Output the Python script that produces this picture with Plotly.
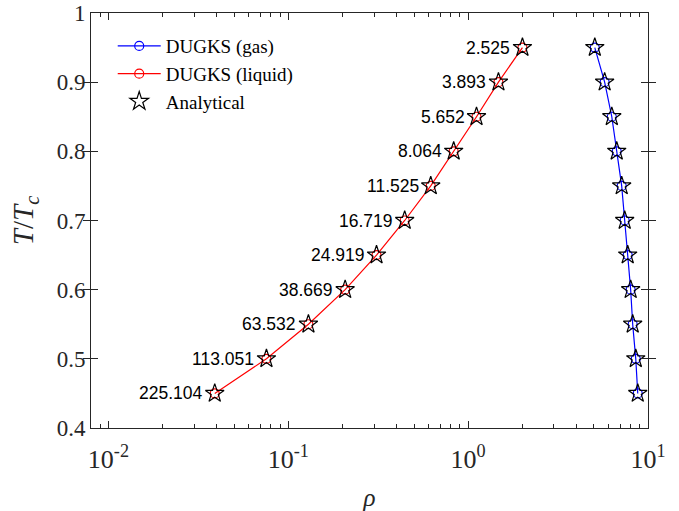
import math
import plotly.graph_objects as go

T_ratio = [0.95, 0.90, 0.85, 0.80, 0.75, 0.70, 0.65, 0.60, 0.55, 0.50, 0.45]
rho_gas = [2.004, 1.474, 1.113, 0.831, 0.6195, 0.4438, 0.3094, 0.2071, 0.1294, 0.0756, 0.0390]
rho_liquid = [5.06, 5.74, 6.29, 6.70, 7.14, 7.42, 7.71, 8.01, 8.22, 8.55, 8.77]
density_ratio = ["2.525", "3.893", "5.652", "8.064", "11.525", "16.719",
                 "24.919", "38.669", "63.532", "113.051", "225.104"]
x_tickvals = [0.01, 0.1, 1, 10]
x_ticktext = ["10<sup>-2</sup>", "10<sup>-1</sup>", "10<sup>0</sup>", "10<sup>1</sup>"]

serif = "Liberation Serif, Times New Roman, serif"
sans = "Liberation Sans, Arial, sans-serif"
axc = "#262626"
xrange_log = [-2.0969, 1.0]

fig = go.Figure()
fig.add_trace(go.Scatter(
    x=rho_liquid, y=T_ratio, mode="lines+markers", name="DUGKS (gas)",
    line=dict(color="#0000ff", width=1.2),
    marker=dict(symbol="circle-open", size=9, color="#0000ff", line=dict(width=1.2)),
))
fig.add_trace(go.Scatter(
    x=rho_gas, y=T_ratio, mode="lines+markers", name="DUGKS (liquid)",
    line=dict(color="#ff0000", width=1.2),
    marker=dict(symbol="circle-open", size=9, color="#ff0000", line=dict(width=1.2)),
))
fig.add_trace(go.Scatter(
    x=rho_liquid + rho_gas, y=T_ratio + T_ratio, mode="markers", name="Analytical",
    marker=dict(symbol="star-open", size=14, color="black", line=dict(width=1.2)),
))
# invisible trace on the top axis to carry mirrored minor ticks
fig.add_trace(go.Scatter(x=rho_gas, y=T_ratio, xaxis="x2", yaxis="y",
                         mode="markers", marker=dict(opacity=0),
                         showlegend=False, hoverinfo="skip"))

for xv, yv, txt in zip(rho_gas, T_ratio, density_ratio):
    fig.add_annotation(x=math.log10(xv), y=yv, xref="x", yref="y", text=txt, showarrow=False,
                       xanchor="right", yanchor="middle", xshift=-10,
                       font=dict(family=sans, size=17.5, color="black"))

fig.update_layout(
    width=679, height=511,
    margin=dict(l=91, r=31, t=13, b=83),
    paper_bgcolor="white", plot_bgcolor="white",
    font=dict(family=serif, color=axc),
    showlegend=True,
    legend=dict(x=0.039, y=0.966, xanchor="left", yanchor="top",
                font=dict(family=serif, size=19, color="black"),
                itemwidth=43,
                bgcolor="rgba(0,0,0,0)", borderwidth=0, tracegroupgap=0),
    xaxis=dict(
        type="log", range=xrange_log, tickmode="array",
        tickvals=x_tickvals, ticktext=x_ticktext,
        automargin=False,
        showgrid=False, zeroline=False,
        showline=True, linecolor=axc, linewidth=1, mirror="allticks",
        ticks="inside", ticklen=7, tickwidth=1.2, tickcolor=axc,
        minor=dict(ticks="inside", ticklen=4, tickwidth=1.2, tickcolor=axc,
                   dtick="D1", showgrid=False),
        tickfont=dict(family=serif, size=26, color=axc),
        ticklabelstandoff=8,
        title=dict(text="<i>ρ</i>", font=dict(family=serif, size=25, color=axc), standoff=18),
    ),
    xaxis2=dict(type="log", range=xrange_log, overlaying="x", side="top", anchor="y",
                automargin=False, showticklabels=False, showgrid=False, zeroline=False,
                showline=True, linecolor=axc, linewidth=1,
                tickmode="array", tickvals=x_tickvals,
                ticks="inside", ticklen=7, tickcolor=axc, tickwidth=1.2,
                minor=dict(ticks="inside", ticklen=4, tickcolor=axc, tickwidth=1.2,
                           dtick="D1", showgrid=False)),
    yaxis=dict(
        range=[0.4, 1.0], dtick=0.1, automargin=False,
        showgrid=False, zeroline=False,
        showline=True, linecolor=axc, linewidth=1, mirror="allticks",
        ticks="inside", ticklen=7, tickwidth=1.2, tickcolor=axc,
        tickfont=dict(family=serif, size=23, color=axc),
        title=dict(text="<i>T</i>/<i>T</i><sub><i>c</i></sub>",
                   font=dict(family=serif, size=29, color=axc), standoff=14),
    ),
)

fig.write_html("out.html")
